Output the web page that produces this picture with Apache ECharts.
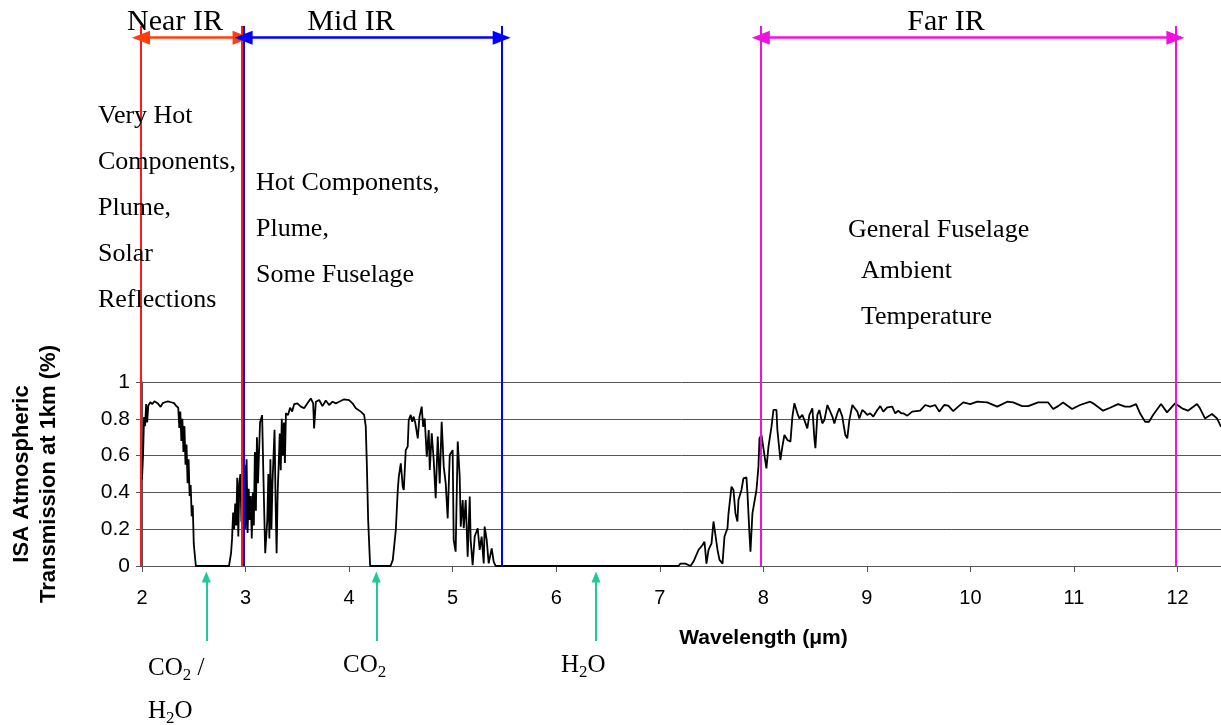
<!DOCTYPE html>
<html>
<head>
<meta charset="utf-8">
<script src="https://cdn.jsdelivr.net/npm/echarts@6/dist/echarts.min.js"></script>
<style>
  html, body { margin: 0; padding: 0; background: #fff; }
  #chart { width: 1221px; height: 725px; }
</style>
</head>
<body>
<div id="chart"></div>
<script>
// wavelength (µm) and transmission
const wavelength = [
  2.00, 2.01, 2.02, 2.03, 2.04, 2.05, 2.06, 2.08, 2.10, 2.12, 2.15, 2.18, 2.20, 2.22, 2.25, 2.28, 2.31, 2.33,
  2.35, 2.36, 2.37, 2.38, 2.39, 2.40, 2.41, 2.42, 2.43, 2.44, 2.45, 2.46, 2.47, 2.48, 2.49, 2.50, 2.51, 2.52,
  2.84, 2.86, 2.87, 2.88, 2.89, 2.90, 2.91, 2.92, 2.93, 2.94, 2.95, 2.96, 2.97, 2.98, 2.99, 3.00, 3.01, 3.02,
  3.03, 3.04, 3.05, 3.06, 3.07, 3.08, 3.09, 3.10, 3.11, 3.12, 3.14, 3.16, 3.17, 3.18, 3.19, 3.21, 3.22, 3.23,
  3.24, 3.25, 3.26, 3.28, 3.29, 3.30, 3.31, 3.32, 3.33, 3.34, 3.35, 3.36, 3.37, 3.38, 3.39, 3.41, 3.43, 3.45,
  3.47, 3.50, 3.534, 3.566, 3.598, 3.63, 3.653, 3.662, 3.679, 3.711, 3.743, 3.775, 3.807, 3.84, 3.872, 3.904,
  3.952, 4.0, 4.033, 4.065, 4.113, 4.145, 4.161, 4.171, 4.184, 4.203,
  4.40, 4.422, 4.451, 4.47, 4.48, 4.499, 4.518, 4.528, 4.547, 4.566, 4.576, 4.595, 4.61, 4.624, 4.64, 4.663,
  4.68, 4.701, 4.715, 4.73, 4.75, 4.769, 4.779, 4.798, 4.817, 4.836, 4.856, 4.875, 4.894, 4.914, 4.933, 4.952,
  4.972, 5.0, 5.01, 5.029, 5.049, 5.068, 5.078, 5.097, 5.107, 5.126, 5.145, 5.165, 5.174, 5.193, 5.213, 5.242,
  5.261, 5.28, 5.3, 5.309, 5.329, 5.348, 5.377, 5.396, 5.415,
  7.18, 7.20, 7.248, 7.297, 7.326, 7.374, 7.413, 7.432, 7.451, 7.471, 7.5, 7.519, 7.538, 7.558, 7.577, 7.606,
  7.625, 7.654, 7.664, 7.693, 7.712, 7.731, 7.75, 7.76, 7.789, 7.808, 7.837, 7.847, 7.866, 7.876, 7.895, 7.914,
  7.934, 7.953, 7.963, 7.982, 8.001, 8.03, 8.05, 8.079, 8.098, 8.127, 8.136, 8.165, 8.184, 8.204, 8.233, 8.262,
  8.281, 8.3, 8.329, 8.348, 8.377, 8.397, 8.425, 8.445, 8.474, 8.493, 8.503, 8.522, 8.541, 8.57, 8.59, 8.619,
  8.638, 8.667, 8.686, 8.715, 8.734, 8.763, 8.773, 8.792, 8.811, 8.831, 8.86, 8.879, 8.908, 8.927, 8.956, 8.976,
  9.004, 9.033, 9.062, 9.101, 9.13, 9.159, 9.197, 9.245, 9.274, 9.303, 9.332, 9.352, 9.39, 9.438, 9.515, 9.564,
  9.612, 9.66, 9.699, 9.747, 9.786, 9.834, 9.882, 9.931, 9.998, 10.066, 10.162, 10.259, 10.355, 10.413, 10.5,
  10.558, 10.654, 10.751, 10.799, 10.847, 10.895, 10.982, 11.059, 11.156, 11.185, 11.281, 11.349, 11.426,
  11.494, 11.542, 11.6, 11.638, 11.687, 11.725, 11.764, 11.841, 11.899, 11.976, 12.044, 12.101, 12.188,
  12.217, 12.265, 12.333, 12.381, 12.42
]
const transmission = [
  0.47, 0.6, 0.81, 0.76, 0.88, 0.78, 0.87, 0.89, 0.88, 0.895, 0.885, 0.865, 0.885, 0.89, 0.895, 0.89, 0.885, 0.87,
  0.86, 0.75, 0.84, 0.68, 0.8, 0.62, 0.76, 0.55, 0.66, 0.45, 0.58, 0.38, 0.44, 0.27, 0.33, 0.12, 0.06, 0,
  0, 0.07, 0.15, 0.29, 0.2, 0.34, 0.22, 0.48, 0.16, 0.45, 0.5, 0.24, 0.46, 0.3, 0.55, 0.2, 0.58, 0.18,
  0.42, 0.25, 0.38, 0.15, 0.4, 0.22, 0.62, 0.3, 0.7, 0.45, 0.78, 0.82, 0.55, 0.3, 0.07, 0.25, 0.5, 0.15,
  0.58, 0.2, 0.45, 0.74, 0.35, 0.07, 0.4, 0.55, 0.72, 0.52, 0.8, 0.6, 0.78, 0.56, 0.83, 0.82, 0.86, 0.84,
  0.88, 0.884, 0.866, 0.857, 0.884, 0.911, 0.884, 0.748, 0.893, 0.902, 0.869, 0.899, 0.875, 0.893, 0.884, 0.893,
  0.906, 0.902, 0.884, 0.857, 0.839, 0.821, 0.757, 0.558, 0.25, 0,
  0, 0.033, 0.196, 0.413, 0.486, 0.558, 0.431, 0.413, 0.63, 0.649, 0.793, 0.821, 0.784, 0.812, 0.775, 0.694,
  0.812, 0.866, 0.757, 0.802, 0.594, 0.739, 0.522, 0.721, 0.576, 0.368, 0.703, 0.449, 0.784, 0.54, 0.449, 0.259,
  0.603, 0.63, 0.141, 0.078, 0.676, 0.486, 0.214, 0.359, 0.205, 0.359, 0.051, 0.377, 0.141, 0.005, 0.16, 0.205,
  0.087, 0.16, 0.014, 0.214, 0.141, 0.014, 0.096, 0.024, 0,
  0, 0.013, 0.013, 0, 0.024, 0.087, 0.114, 0.132, 0.013, 0.087, 0.123, 0.242, 0.232, 0.087, 0.033, 0.013,
  0.16, 0.205, 0.286, 0.431, 0.413, 0.286, 0.242, 0.359, 0.413, 0.476, 0.482, 0.395, 0.178, 0.078, 0.286, 0.295,
  0.413, 0.54, 0.694, 0.712, 0.64, 0.53, 0.649, 0.757, 0.848, 0.848, 0.739, 0.576, 0.649, 0.712, 0.685, 0.676,
  0.812, 0.884, 0.83, 0.802, 0.821, 0.793, 0.748, 0.821, 0.857, 0.694, 0.64, 0.821, 0.848, 0.775, 0.793, 0.875,
  0.866, 0.812, 0.775, 0.83, 0.857, 0.812, 0.775, 0.712, 0.694, 0.793, 0.875, 0.875, 0.839, 0.802, 0.848, 0.839,
  0.821, 0.83, 0.812, 0.848, 0.869, 0.839, 0.862, 0.866, 0.83, 0.844, 0.83, 0.83, 0.817, 0.839, 0.844, 0.875,
  0.866, 0.875, 0.839, 0.875, 0.871, 0.842, 0.866, 0.889, 0.88, 0.893, 0.889, 0.866, 0.893, 0.889, 0.869,
  0.869, 0.889, 0.889, 0.853, 0.869, 0.889, 0.853, 0.875, 0.893, 0.884, 0.844, 0.86, 0.88,
  0.866, 0.866, 0.88, 0.83, 0.784, 0.784, 0.821, 0.88, 0.835, 0.884, 0.857, 0.844, 0.88,
  0.857, 0.802, 0.826, 0.802, 0.757
]

// IR bands (edges as drawn, µm)
const bandNames = ['Near IR', 'Mid IR', 'Far IR']
const bandFrom = [2.0, 2.99, 7.98]
const bandTo = [2.97, 5.48, 11.98]
const bandColors = ['#ff3d0d', '#0000ff', '#f010e0']
const bandEdgeColors = ['#ff1a1a', '#0000ff', '#f010e0']

// absorbers marked under the axis
const absorberNames = ['CO{s|2} /\nH{s|2}O', 'CO{s|2}', 'H{s|2}O']
const absorberAt = [2.63, 4.27, 6.39]

// ---- layout ----
const W = 1221, H = 725
const gLeft = 141, gRight = 0, gTop = 382, gBottom = 159
const xMin = 2, xMax = 12.42, yMin = 0, yMax = 1
const pxX = (W - gLeft - gRight) / (xMax - xMin)
const pxY = (H - gTop - gBottom) / (yMax - yMin)
// overlay axes span the whole canvas with the same scale as the plot
const oxMin = xMin - gLeft / pxX
const oxMax = xMax + gRight / pxX
const oyMin = yMin - gBottom / pxY
const oyMax = yMax + gTop / pxY

const serif = 'Liberation Serif'
const sans = 'Liberation Sans'
const lineTop = 2.935
const arrowY = 2.871

const chart = echarts.init(document.getElementById('chart'), null, { renderer: 'canvas' })

// band edges and arrows
const markLines = []
bandNames.forEach((n, i) => {
  ;[bandFrom[i], bandTo[i]].forEach(x => {
    markLines.push([
      { coord: [x, 0], symbol: 'none', lineStyle: { color: bandEdgeColors[i], width: 2, type: 'solid' } },
      { coord: [x, lineTop], symbol: 'none' }
    ])
  })
  markLines.push([
    { coord: [bandFrom[i], arrowY], symbol: 'triangle', symbolSize: [14, 18], lineStyle: { color: bandColors[i], width: 2.5, type: 'solid' }, itemStyle: { color: bandColors[i] } },
    { coord: [bandTo[i], arrowY], symbol: 'triangle', symbolSize: [14, 18] }
  ])
})
absorberAt.forEach(x => {
  markLines.push([
    { coord: [x, -0.408], symbol: 'none', lineStyle: { color: '#1ecb98', width: 2, type: 'solid' }, itemStyle: { color: '#1ecb98' } },
    { coord: [x, -0.06], symbol: 'triangle', symbolSize: [9, 11] }
  ])
})

// subscript: same line centre, pushed down by top padding
const subRich = {
  s: { fontFamily: serif, fontSize: 17, color: '#000', verticalAlign: 'middle', padding: [14, 0, 0, 0] }
}

const textItems = []
// band titles
const titleX = [2.328, 4.026, 9.767]
bandNames.forEach((n, i) => {
  textItems.push({
    value: [titleX[i], 2.957],
    label: { formatter: n, position: 'inside', fontSize: 30, color: '#000' }
  })
})
// source descriptions
const notes = [
  { text: 'Very Hot\nComponents,\nPlume,\nSolar\nReflections', at: [1.585, 1.945] },
  { text: 'Hot Components,\nPlume,\nSome Fuselage', at: [3.109, 1.83] },
  { text: 'General Fuselage', at: [8.821, 1.826] },
  { text: 'Ambient', at: [8.946, 1.603] },
  { text: 'Temperature', at: [8.946, 1.353] }
]
notes.forEach(n => {
  textItems.push({
    value: n.at,
    label: { formatter: n.text, position: 'right', distance: 0, align: 'left', fontSize: 26, lineHeight: 46, color: '#000' }
  })
})
// absorber labels
const absorberLabelAt = [[2.068, -0.675], [3.949, -0.54], [6.052, -0.54]]
absorberNames.forEach((n, i) => {
  textItems.push({
    value: absorberLabelAt[i],
    label: { formatter: n, position: 'right', distance: 0, align: 'left', fontSize: 25, lineHeight: 43, color: '#000', rich: subRich }
  })
})

const option = {
  animation: false,
  backgroundColor: '#fff',
  grid: [
    { left: gLeft, right: gRight, top: gTop, bottom: gBottom },
    { left: 0, right: 0, top: 0, bottom: 0 }
  ],
  xAxis: [
    {
      gridIndex: 0, type: 'value', min: xMin, max: xMax, interval: 1,
      name: 'Wavelength (\u03bcm)', nameLocation: 'middle', nameGap: 62,
      nameTextStyle: { fontFamily: sans, fontWeight: 'bold', fontSize: 21, color: '#000', padding: [0, 0, 0, 164] },
      axisLine: { show: true, onZero: false, lineStyle: { color: '#555', width: 1 } },
      axisTick: { show: true, inside: false, length: 6, lineStyle: { color: '#555' } },
      axisLabel: { fontFamily: sans, fontSize: 20, color: '#000', margin: 22, showMaxLabel: false },
      splitLine: { show: false }
    },
    { gridIndex: 1, type: 'value', min: oxMin, max: oxMax, show: false }
  ],
  yAxis: [
    {
      gridIndex: 0, type: 'value', min: yMin, max: yMax, interval: 0.2,
      name: 'ISA Atmospheric\nTransmission at 1km (%)', nameLocation: 'middle', nameRotate: 90, nameGap: 80,
      nameTextStyle: { fontFamily: sans, fontWeight: 'bold', fontSize: 22, lineHeight: 27, color: '#000' },
      axisLine: { show: true, lineStyle: { color: '#555', width: 1 } },
      axisTick: { show: true, length: 6, lineStyle: { color: '#555' } },
      axisLabel: { fontFamily: sans, fontSize: 21, color: '#000', margin: 12 },
      splitLine: { show: true, lineStyle: { color: '#555', width: 1 } }
    },
    { gridIndex: 1, type: 'value', min: oyMin, max: oyMax, show: false }
  ],
  series: [
    {
      name: 'Transmission',
      type: 'line',
      xAxisIndex: 0, yAxisIndex: 0,
      data: wavelength.map((w, i) => [w, transmission[i]]),
      showSymbol: false,
      symbol: 'none',
      lineStyle: { color: '#000', width: 1.8 },
      clip: false,
      z: 2
    },
    {
      name: 'annotations',
      type: 'scatter',
      xAxisIndex: 1, yAxisIndex: 1,
      symbolSize: 0,
      silent: true,
      z: 5,
      itemStyle: { opacity: 1 },
      label: { show: true, fontFamily: serif, color: '#000' },
      data: textItems,
      markLine: {
        silent: true,
        symbol: 'none',
        label: { show: false },
        emphasis: { disabled: true },
        data: markLines
      }
    }
  ]
}

chart.setOption(option)
</script>
</body>
</html>
